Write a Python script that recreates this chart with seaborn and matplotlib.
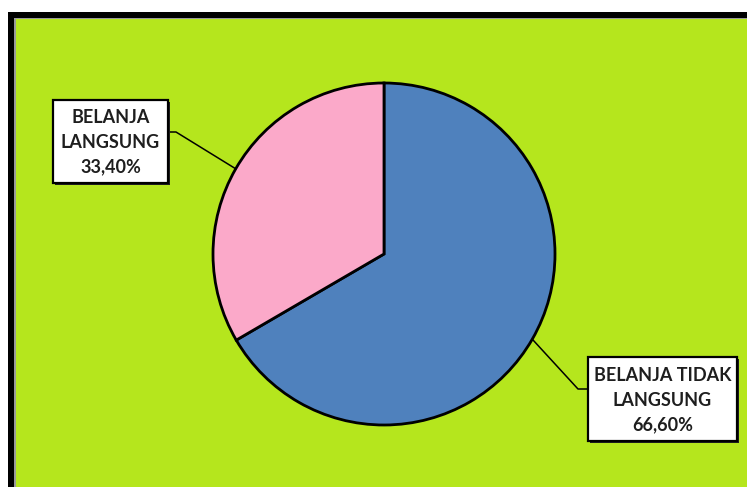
import matplotlib
matplotlib.use("Agg")
import matplotlib.pyplot as plt
import seaborn as sns
import numpy as np
from matplotlib.patches import Rectangle

sns.set_style("white")
plt.rcParams['font.family'] = ['Lato', 'DejaVu Sans']

categories = ["BELANJA TIDAK\nLANGSUNG", "BELANJA\nLANGSUNG"]
values = [66.60, 33.40]
pct_labels = ["66,60%", "33,40%"]
colors = ["#4F81BD", "#FBA9C9"]

W, H = 747, 487
fig = plt.figure(figsize=(W / 100, H / 100), dpi=100)
fig.patch.set_facecolor("white")

def fig_rect(x0, y0, x1, y1, color, z):
    # pixel coords with y from top
    r = Rectangle((x0 / W, 1 - y1 / H), (x1 - x0) / W, (y1 - y0) / H,
                  transform=fig.transFigure, facecolor=color, edgecolor="none", zorder=z)
    fig.patches.append(r)

fig_rect(8, 12, W + 5, H + 5, "black", -3)
fig_rect(14, 18, W + 5, H + 5, "#9a9a9a", -2)
fig_rect(16, 19, W + 5, H + 5, "#B5E61D", -1)

cx, cy, R = 384, 254, 171
ax = fig.add_axes([(cx - R) / W, (H - cy - R) / H, 2 * R / W, 2 * R / H])
ax.set_zorder(5)
ax.set_xlim(-1, 1)
ax.set_ylim(-1, 1)
ax.set_aspect("equal")
ax.axis("off")
ax.patch.set_alpha(0)

wedges, _ = ax.pie(values, colors=colors, startangle=90, counterclock=False,
                   radius=1.0, wedgeprops=dict(edgecolor="black", linewidth=2.0),
                   frame=False)
for w in wedges:
    w.set_clip_on(False)
ax.set_xlim(-1, 1)
ax.set_ylim(-1, 1)

def px2d(px, py):
    return (px - cx) / R, (cy - py) / R

# label boxes (pixel layout): x0, y0, x1, y1, elbow side
boxes = [
    (588, 357, 737, 441, "left"),
    (53, 100, 168, 183, "right"),
]
elbow_y = [389, 132]

for i, (w, (x0, y0, x1, y1, side)) in enumerate(zip(wedges, boxes)):
    ang = np.deg2rad((w.theta1 + w.theta2) / 2)
    ex, ey = np.cos(ang), np.sin(ang)
    # shadow
    sx0, sy0 = px2d(x0 + 2, y1 + 2)
    sx1, sy1 = px2d(x1 + 2, y0 + 2)
    ax.add_patch(Rectangle((sx0, sy0), sx1 - sx0, sy1 - sy0, facecolor="#202020",
                           edgecolor="none", clip_on=False, zorder=4))
    bx0, by0 = px2d(x0, y1)
    bx1, by1 = px2d(x1, y0)
    ax.add_patch(Rectangle((bx0, by0), bx1 - bx0, by1 - by0, facecolor="white",
                           edgecolor="black", linewidth=1.6, clip_on=False, zorder=5))
    if side == "left":
        p1 = px2d(x0, elbow_y[i]); p2 = px2d(x0 - 10, elbow_y[i])
    else:
        p1 = px2d(x1, elbow_y[i]); p2 = px2d(x1 + 8, elbow_y[i])
    ax.plot([p1[0], p2[0], ex], [p1[1], p2[1], ey], color="black", lw=1.1,
            clip_on=False, zorder=3)
    tx, ty = px2d((x0 + x1) / 2, (y0 + y1) / 2 + 1)
    ax.text(tx, ty, categories[i] + "\n" + pct_labels[i], ha="center", va="center",
            fontsize=13, fontweight="bold", color="#1e1e1e", linespacing=1.55,
            zorder=6, clip_on=False)

fig.savefig("out.png", dpi=100)
